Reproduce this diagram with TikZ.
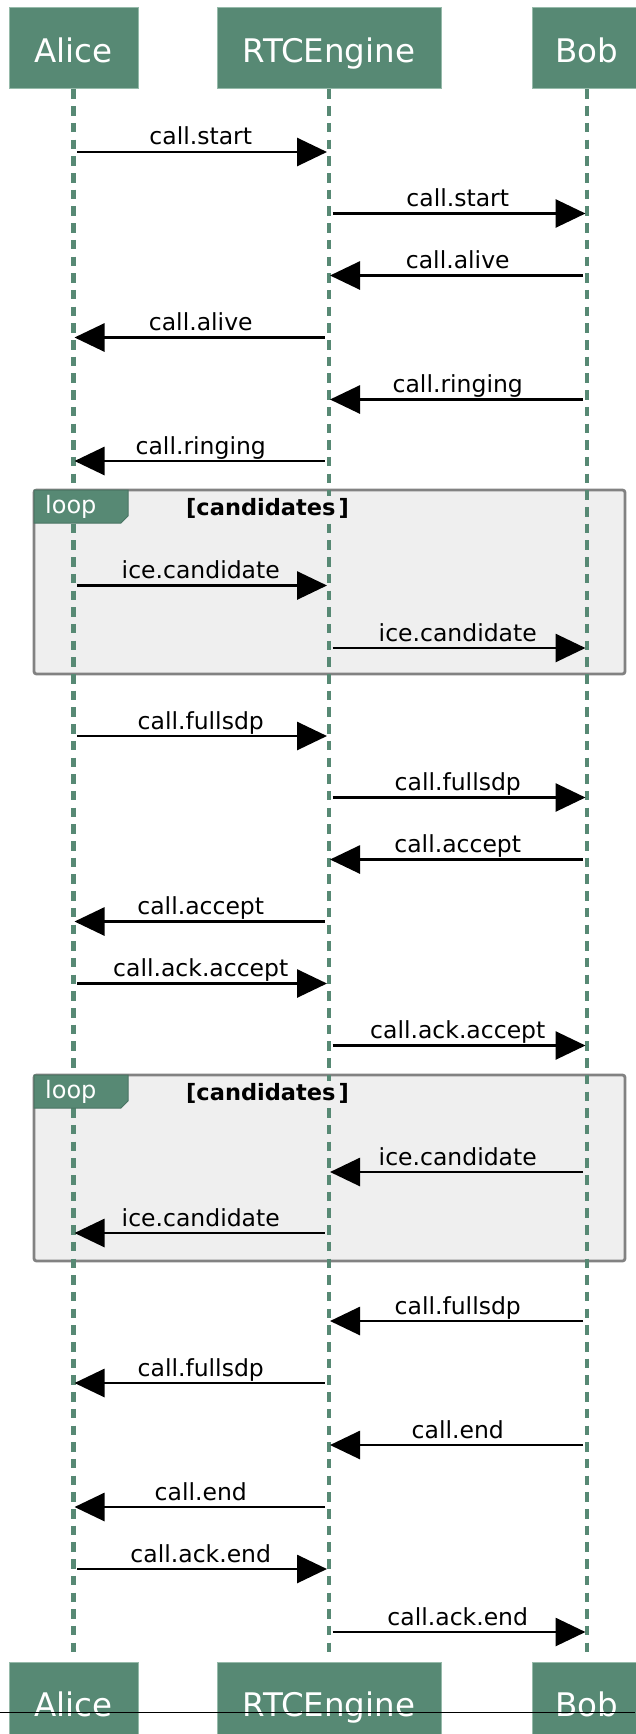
\documentclass[tikz,border=0pt]{standalone}
\usepackage{fontspec}
\setmainfont{DejaVu Sans}
\usetikzlibrary{arrows.meta,calc}
\definecolor{hdr}{RGB}{87,137,116}
\definecolor{hdrborder}{RGB}{150,186,170}
\definecolor{loopfill}{RGB}{239,239,239}
\definecolor{loopborder}{RGB}{130,130,130}
\tikzset{
 actor/.style={fill=hdr, draw=hdrborder, line width=1pt, minimum height=81pt, text=white,
   font=\fontsize{32.5}{36}\selectfont, inner sep=0pt, text height=27.7pt, text depth=0pt},
 lifeline/.style={draw=hdr, line width=4.5pt, dash pattern=on 9.5pt off 7.2pt},
 msgarrow/.style={draw=black, line width=2.8pt, -{Triangle[length=30pt,width=28pt]},
   shorten <=4pt, shorten >=1.5pt},
 msglabel/.style={font=\fontsize{23.5}{28}\selectfont, anchor=base, inner sep=0pt},
 loopbox/.style={fill=loopfill, draw=loopborder, line width=2.8pt, rounded corners=2.5pt, inner sep=0pt},
 looptab/.style={fill=hdr, draw=hdr!85!black, line width=1pt},
 looptext/.style={text=white, font=\fontsize{24}{28}\selectfont, anchor=base west, inner sep=0pt},
 loopcond/.style={font=\bfseries\fontsize{22.5}{28}\selectfont, anchor=base, fill=loopfill, inner sep=2pt},
 rule/.style={draw=black, line width=0.8pt},
}
\newcommand\msgline[5]{% id, x1, x2, y, label
 \coordinate (m#1s) at (#2,#4);
 \coordinate (m#1e) at (#3,#4);
 \draw[msgarrow] (m#1s) -- (m#1e);
 \node[msglabel, yshift=7pt] (l#1) at ($(m#1s)!0.5!(m#1e)$) {#5};
}
\begin{document}
\begin{tikzpicture}[x=1pt,y=-1pt]
\useasboundingbox (0,0) rectangle (635,1734);
% loop frames
\node[loopbox, minimum width=591pt, minimum height=184pt] (loopA) at (329.5,582) {};
\node[loopbox, minimum width=591pt, minimum height=186pt] (loopB) at (329.5,1168) {};
% actors
\node[actor, minimum width=129pt] (hA) at (73.5,48.5) {Alice};
\node[actor, minimum width=224pt] (hR) at (329,48.5) {RTCEngine};
\node[actor, minimum width=110pt] (hB) at (587,48.5) {Bob};
\node[actor, minimum width=129pt] (fA) at (73.5,1702.5) {Alice};
\node[actor, minimum width=224pt] (fR) at (329,1702.5) {RTCEngine};
\node[actor, minimum width=110pt] (fB) at (587,1702.5) {Bob};
% lifelines
\draw[lifeline, shorten >=8pt] (hA.south) -- (fA.north);
\draw[lifeline, shorten >=8pt] (hR.south) -- (fR.north);
\draw[lifeline, shorten >=8pt] (hB.south) -- (fB.north);
% loop tabs and conditions
\draw[looptab] (34,490) -- (128,490) -- (128,516) -- (121,523) -- (34,523) -- cycle;
\node[looptext] (ltA) at (45,513) {loop};
\node[loopcond] (lcA) at (267.5,515) {[candidates\hspace{3pt}]};
\draw[looptab] (34,1075) -- (128,1075) -- (128,1101) -- (121,1108) -- (34,1108) -- cycle;
\node[looptext] (ltB) at (45,1098) {loop};
\node[loopcond] (lcB) at (267.5,1100) {[candidates\hspace{3pt}]};
% messages
\def\xA{73}\def\xR{328.5}\def\xB{587}
\msgline{1}{\xA}{\xR}{152}{call.start}
\msgline{2}{\xR}{\xB}{213.5}{call.start}
\msgline{3}{\xB}{\xR}{275.5}{call.alive}
\msgline{4}{\xR}{\xA}{337.5}{call.alive}
\msgline{5}{\xB}{\xR}{399.5}{call.ringing}
\msgline{6}{\xR}{\xA}{461}{call.ringing}
\msgline{7}{\xA}{\xR}{585.5}{ice.candidate}
\msgline{8}{\xR}{\xB}{648}{ice.candidate}
\msgline{9}{\xA}{\xR}{736}{call.fullsdp}
\msgline{10}{\xR}{\xB}{797.5}{call.fullsdp}
\msgline{11}{\xB}{\xR}{859.5}{call.accept}
\msgline{12}{\xR}{\xA}{921.5}{call.accept}
\msgline{13}{\xA}{\xR}{983.5}{call.ack.accept}
\msgline{14}{\xR}{\xB}{1045.5}{call.ack.accept}
\msgline{15}{\xB}{\xR}{1172}{ice.candidate}
\msgline{16}{\xR}{\xA}{1233}{ice.candidate}
\msgline{17}{\xB}{\xR}{1321}{call.fullsdp}
\msgline{18}{\xR}{\xA}{1383}{call.fullsdp}
\msgline{19}{\xB}{\xR}{1445}{call.end}
\msgline{20}{\xR}{\xA}{1507}{call.end}
\msgline{21}{\xA}{\xR}{1569}{call.ack.end}
\msgline{22}{\xR}{\xB}{1632}{call.ack.end}
% horizontal rule near the bottom
\coordinate (ruleL) at (0,1712);
\coordinate (ruleR) at (635,1712);
\draw[rule] (ruleL) -- (ruleR);
\end{tikzpicture}
\end{document}
